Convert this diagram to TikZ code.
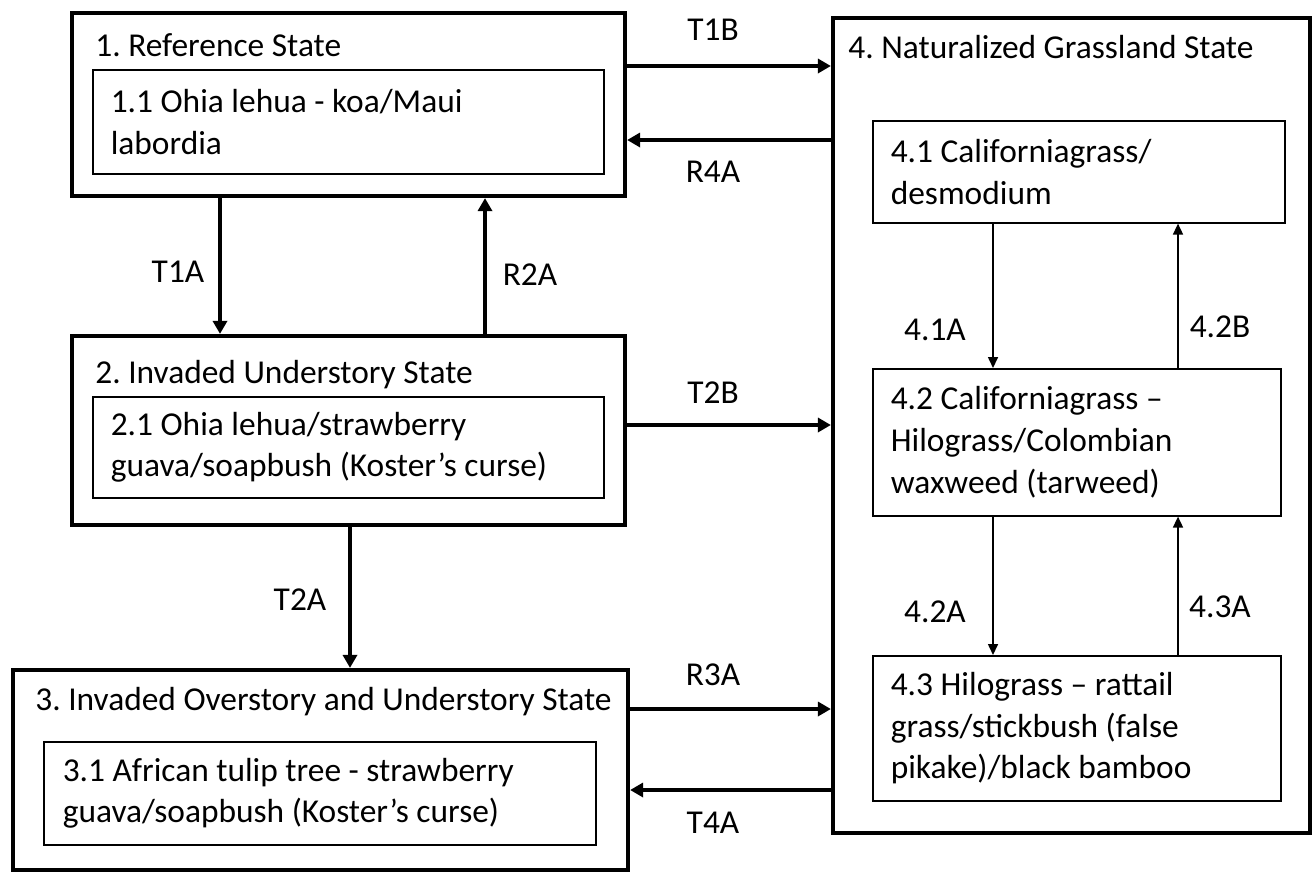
\documentclass[tikz,border=0pt]{standalone}
\usepackage{fontspec}
\setmainfont{Carlito}
\usepackage{tikz}
\usetikzlibrary{arrows.meta,fit}

\tikzset{
  statebox/.style={draw, line width=2.1pt, inner sep=0pt},
  phasebox/.style={draw, line width=0.8pt, anchor=north west, align=flush left, inner ysep=0pt},
  bigarrow/.style={line width=1.8pt, -{Triangle[length=6.5pt,width=7pt]}},
  smallarrow/.style={line width=0.8pt, -{Triangle[length=5.5pt,width=5pt]}},
}

\begin{document}
\frenchspacing
\begin{tikzpicture}[x=0.5pt, y=-0.5pt, font=\fontsize{16.7}{20.8}\selectfont]
		\useasboundingbox (0,0) rectangle (1316,873);
		
		% states
		\node[statebox, fit={(72,13) (625,196)}] (s1) {};
		\node[statebox, fit={(72,336) (625,525)}] (s2) {};
		\node[statebox, fit={(13,670) (628,870)}] (s3) {};
		\node[statebox, fit={(833,18) (1310,833)}] (s4) {};
		
		\node[anchor=west, inner sep=0pt] (t1) at (95,45) {1. Reference State};
		\node[anchor=west, inner sep=0pt] (t2) at (95,375) {2. Invaded Understory State};
		\node[anchor=west, inner sep=0pt] (t3) at (35,702) {3. Invaded Overstory and Understory State};
		\node[anchor=west, inner sep=0pt] (t4) at (848,47) {4. Naturalized Grassland State};
		
		% community phases
		\node[phasebox, minimum width=255.5pt, minimum height=52pt, text width=237.5pt, inner xsep=9pt] (p11) at (92,69)
			{1.1 Ohia lehua - koa/Maui\\labordia};
		\node[phasebox, minimum width=255.5pt, minimum height=50.5pt, text width=237.5pt, inner xsep=9pt] (p21) at (92,396)
			{2.1 Ohia lehua/strawberry\\guava/soapbush (Koster’s curse)};
		\node[phasebox, minimum width=276pt, minimum height=51.5pt, text width=257pt, inner xsep=9.5pt] (p31) at (43,741)
			{3.1 African tulip tree - strawberry\\guava/soapbush (Koster’s curse)};
		\node[phasebox, minimum width=206pt, minimum height=51pt, text width=188pt, inner xsep=9pt] (p41) at (872,120)
			{4.1 Californiagrass/\\desmodium};
		\node[phasebox, minimum width=204pt, minimum height=73.5pt, text width=186pt, inner xsep=9pt] (p42) at (872,368)
			{4.2 Californiagrass –\\Hilograss/Colombian\\waxweed (tarweed)};
		\node[phasebox, minimum width=204pt, minimum height=72.5pt, text width=186pt, inner xsep=9pt] (p43) at (872,655)
			{4.3 Hilograss – rattail\\grass/stickbush (false\\pikake)/black bamboo};
		
		% rows and columns of the transitions
		\coordinate (rowA) at (0,66);
		\coordinate (rowB) at (0,140);
		\coordinate (rowC) at (0,425);
		\coordinate (rowD) at (0,709);
		\coordinate (rowE) at (0,790);
		\coordinate (colA) at (220,0);
		\coordinate (colB) at (485,0);
		\coordinate (colC) at (350,0);
		\coordinate (colD) at (993,0);
		\coordinate (colE) at (1178,0);
		
		\draw[bigarrow] (s1.east |- rowA) -- (s4.west |- rowA);
		\draw[bigarrow] (s4.west |- rowB) -- (s1.east |- rowB);
		\draw[bigarrow] (s1.south -| colA) -- (s2.north -| colA);
		\draw[bigarrow] (s2.north -| colB) -- (s1.south -| colB);
		\draw[bigarrow] (s2.east |- rowC) -- (s4.west |- rowC);
		\draw[bigarrow] (s2.south -| colC) -- (s3.north -| colC);
		\draw[bigarrow] (s3.east |- rowD) -- (s4.west |- rowD);
		\draw[bigarrow] (s4.west |- rowE) -- (s3.east |- rowE);
		
		\draw[smallarrow] (p41.south -| colD) -- (p42.north -| colD);
		\draw[smallarrow] (p42.north -| colE) -- (p41.south -| colE);
		\draw[smallarrow] (p42.south -| colD) -- (p43.north -| colD);
		\draw[smallarrow] (p43.north -| colE) -- (p42.south -| colE);
		
		\node (lT1B) at (713,30) {T1B};
		\node (lR4A) at (713,172) {R4A};
		\node (lT1A) at (178,272) {T1A};
		\node (lR2A) at (530,275) {R2A};
		\node (lT2B) at (713,393) {T2B};
		\node (lT2A) at (300,600) {T2A};
		\node (lR3A) at (713,675) {R3A};
		\node (lT4A) at (713,823) {T4A};
		\node (l41A) at (935,330) {4.1A};
		\node (l42B) at (1220,327) {4.2B};
		\node (l42A) at (935,612) {4.2A};
		\node (l43A) at (1220,607) {4.3A};
		
\end{tikzpicture}
\end{document}
